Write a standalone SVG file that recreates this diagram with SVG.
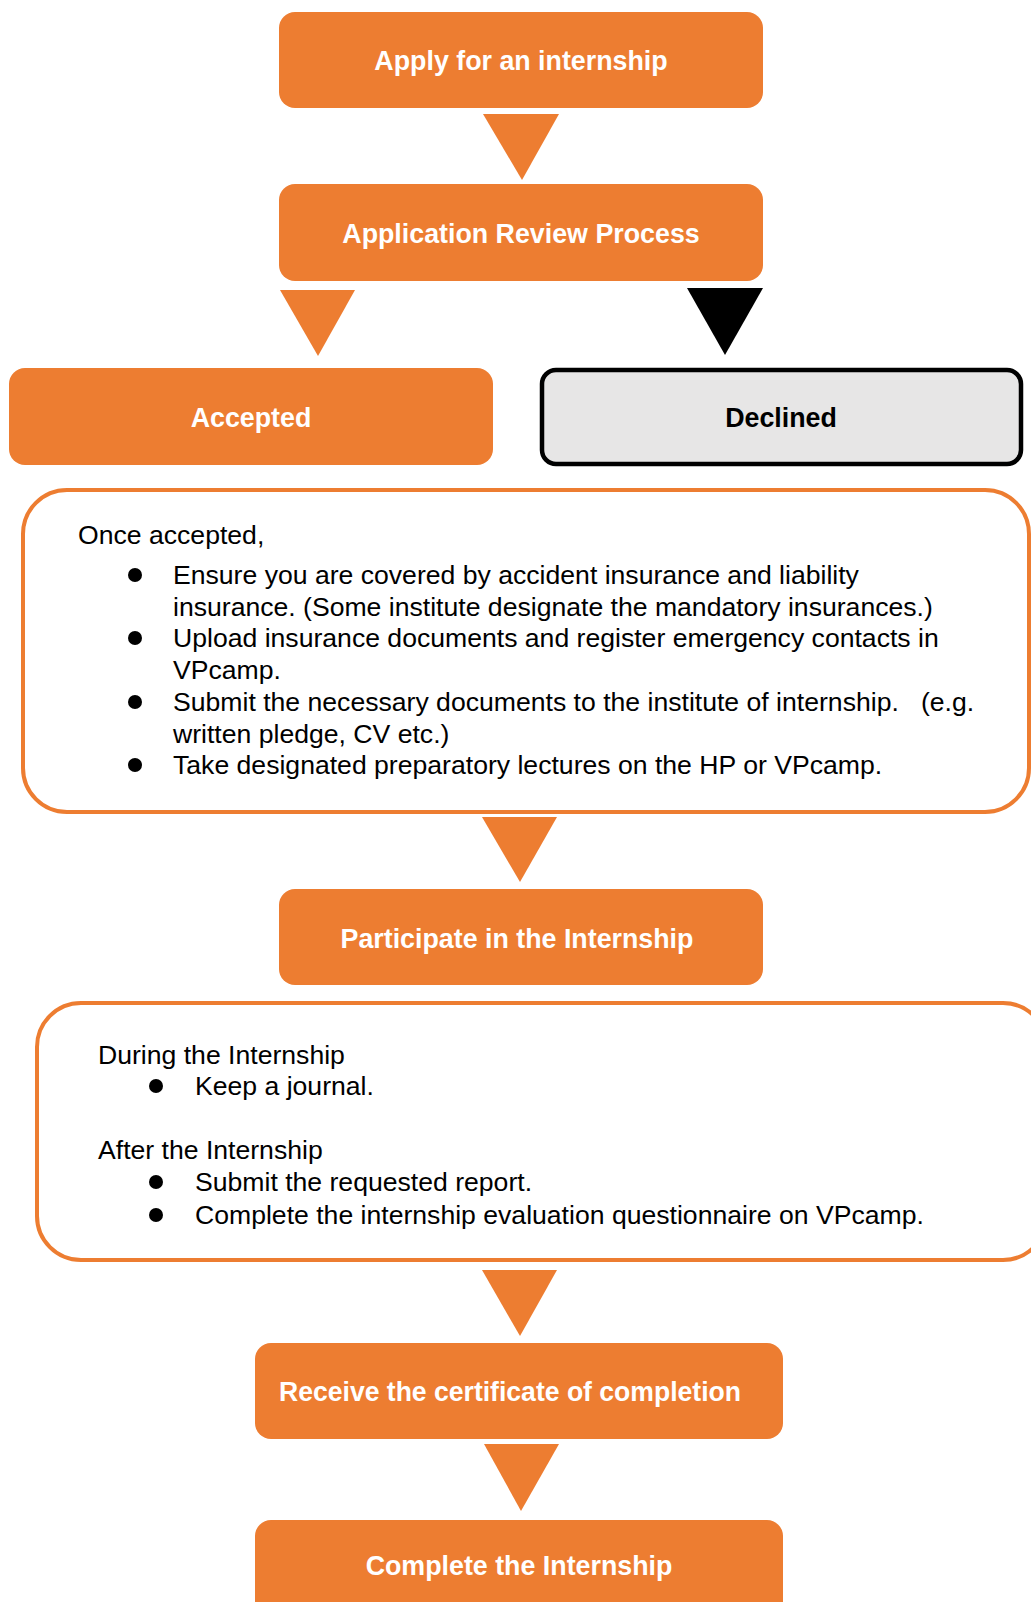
<svg xmlns="http://www.w3.org/2000/svg" width="1031" height="1602" viewBox="0 0 1031 1602">
<style>
.box{fill:#ED7D31;}
.lbl{font-family:"Liberation Sans",Arial,sans-serif;font-weight:bold;font-size:26.8px;fill:#FFFFFF;text-anchor:middle;}
.body{font-family:"Liberation Sans",Arial,sans-serif;font-size:26.6px;fill:#000000;}
.panel{fill:#FFFFFF;stroke:#ED7D31;stroke-width:4;}
.arr{fill:#ED7D31;}
.bul{fill:#000000;}
</style>
<rect width="1031" height="1602" fill="#FFFFFF"/>
<g id="connectors">
<polygon class="arr" points="483,114 559,114 522,180"/>
<polygon class="arr" points="280,290 355,290 318,356"/>
<polygon fill="#000000" points="687,288 763,288 725,355"/>
<polygon class="arr" points="482,817 557,817 520,882"/>
<polygon class="arr" points="482,1270 557,1270 520,1336"/>
<polygon class="arr" points="484,1444 559,1444 521,1511"/>
</g>
<g id="apply">
<rect class="box" x="279" y="12" width="484" height="96" rx="16"/>
<text class="lbl" x="521" y="70">Apply for an internship</text>
</g>
<g id="review">
<rect class="box" x="279" y="184" width="484" height="97" rx="16"/>
<text class="lbl" x="521" y="243">Application Review Process</text>
</g>
<g id="accepted">
<rect class="box" x="9" y="368" width="484" height="97" rx="16"/>
<text class="lbl" x="251" y="427">Accepted</text>
</g>
<g id="declined">
<rect x="542" y="370" width="479" height="94" rx="14" fill="#E7E6E6" stroke="#000000" stroke-width="4.5"/>
<text class="lbl" x="781" y="427" style="fill:#000000">Declined</text>
</g>
<g id="once">
<rect class="panel" x="23" y="490" width="1006" height="322" rx="44"/>
<text class="body" x="78" y="544">Once accepted,</text>
<circle class="bul" cx="135" cy="575" r="7"/>
<text class="body" x="173" y="584">Ensure you are covered by accident insurance and liability</text>
<text class="body" x="173" y="616">insurance. (Some institute designate the mandatory insurances.)</text>
<circle class="bul" cx="135" cy="638" r="7"/>
<text class="body" x="173" y="647">Upload insurance documents and register emergency contacts in</text>
<text class="body" x="173" y="679">VPcamp.</text>
<circle class="bul" cx="135" cy="702" r="7"/>
<text class="body" x="173" y="711" xml:space="preserve">Submit the necessary documents to the institute of internship.   (e.g.</text>
<text class="body" x="173" y="743">written pledge, CV etc.)</text>
<circle class="bul" cx="135" cy="765" r="7"/>
<text class="body" x="173" y="774">Take designated preparatory lectures on the HP or VPcamp.</text>
</g>
<g id="participate">
<rect class="box" x="279" y="889" width="484" height="96" rx="16"/>
<text class="lbl" x="517" y="948">Participate in the Internship</text>
</g>
<g id="during">
<rect class="panel" x="37" y="1003" width="1010" height="257" rx="44"/>
<text class="body" x="98" y="1064">During the Internship</text>
<circle class="bul" cx="156" cy="1086" r="7"/>
<text class="body" x="195" y="1095">Keep a journal.</text>
<text class="body" x="98" y="1159">After the Internship</text>
<circle class="bul" cx="156" cy="1182" r="7"/>
<text class="body" x="195" y="1191">Submit the requested report.</text>
<circle class="bul" cx="156" cy="1215" r="7"/>
<text class="body" x="195" y="1224">Complete the internship evaluation questionnaire on VPcamp.</text>
</g>
<g id="receive">
<rect class="box" x="255" y="1343" width="528" height="96" rx="16"/>
<text class="lbl" x="279" y="1401" style="text-anchor:start" textLength="462" lengthAdjust="spacingAndGlyphs">Receive the certificate of completion</text>
</g>
<g id="complete">
<rect class="box" x="255" y="1520" width="528" height="100" rx="16"/>
<text class="lbl" x="519" y="1575">Complete the Internship</text>
</g>
</svg>
